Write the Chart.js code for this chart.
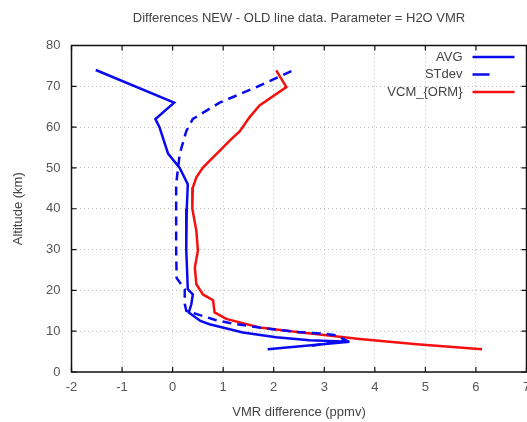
<!DOCTYPE html>
<html>
<head>
<meta charset="utf-8">
<script src="https://cdn.jsdelivr.net/npm/chart.js@4.4.1/dist/chart.umd.min.js"></script>
<style>
  html, body { margin: 0; padding: 0; background: #fff; overflow: hidden; }
  .wrap { width: 527px; height: 422px; overflow: hidden; }
</style>
</head>
<body>
<div class="wrap"><canvas id="myChart" width="560" height="422"></canvas></div>
<script>
// values (altitude in km, difference in ppmv)
var avgAlt = [74, 66, 62, 60, 53.5, 50, 46, 40, 30, 20.3, 19, 16.6, 14.6, 12.5, 11.7, 9.7, 8.5, 7.8, 7.4, 5.6];
var avgVmr = [-1.52, 0.03, -0.34, -0.26, -0.09, 0.14, 0.30, 0.28, 0.27, 0.30, 0.40, 0.37, 0.32, 0.55, 0.73, 1.39, 2.05, 2.71, 3.5, 1.88];

var stdAlt = [73.7, 69.5, 66, 62, 59, 53.4, 46, 40, 30, 23, 20.3, 16.7, 15, 12.8, 12, 10.9, 10.5, 9.8, 9.4, 9.0, 7.8, 6.3];
var stdVmr = [2.35, 1.6, 0.93, 0.40, 0.27, 0.14, 0.07, 0.07, 0.07, 0.08, 0.24, 0.24, 0.27, 0.83, 1.13, 1.72, 1.99, 2.45, 2.98, 3.24, 3.42, 2.7];

var vcmAlt = [73.9, 69.8, 65.3, 62.4, 59, 56.7, 54.2, 52.2, 50.1, 47.7, 45.2, 40, 34.6, 29.7, 25.6, 21.5, 19, 17.6, 14.6, 13, 10.9, 9.9, 9.0, 8.1, 6.8, 5.6];
var vcmVmr = [2.05, 2.25, 1.72, 1.52, 1.33, 1.13, 0.93, 0.77, 0.60, 0.47, 0.40, 0.39, 0.47, 0.50, 0.44, 0.47, 0.6, 0.8, 0.83, 1.06, 1.72, 2.38, 3.04, 3.7, 4.83, 6.12];

var seriesNames = ["AVG", "STdev", "VCM_{ORM}"];
var xTicks = [-2, -1, 0, 1, 2, 3, 4, 5, 6, 7];
var yTicks = [0, 10, 20, 30, 40, 50, 60, 70, 80];
var chartTitle = "Differences NEW - OLD line data. Parameter = H2O VMR";

const toPoints = (xs, ys) => xs.map((v, i) => ({ x: v, y: ys[i] }));

const FONT = "'Liberation Sans', Arial, sans-serif";

// frame, inward ticks, title and legend drawn like the gnuplot original
const decor = {
  id: "decor",
  beforeDatasetsDraw(chart) {
    const ctx = chart.ctx;
    const a = chart.chartArea;
    const xs = chart.scales.x;
    const ys = chart.scales.y;
    ctx.save();
    ctx.strokeStyle = "#111";
    ctx.lineWidth = 1.5;
    ctx.strokeRect(a.left, a.top, a.right - a.left, a.bottom - a.top);
    ctx.lineWidth = 1.2;
    ctx.beginPath();
    xTicks.forEach(function (t) {
      var px = xs.getPixelForValue(t);
      ctx.moveTo(px, a.bottom); ctx.lineTo(px, a.bottom - 5);
      ctx.moveTo(px, a.top); ctx.lineTo(px, a.top + 5);
    });
    yTicks.forEach(function (t) {
      var py = ys.getPixelForValue(t);
      ctx.moveTo(a.left, py); ctx.lineTo(a.left + 5, py);
      ctx.moveTo(a.right, py); ctx.lineTo(a.right - 5, py);
    });
    ctx.stroke();
    ctx.restore();
  },
  afterDatasetsDraw(chart) {
    const ctx = chart.ctx;
    const a = chart.chartArea;
    ctx.save();
    ctx.fillStyle = "#444";
    ctx.font = "13px " + FONT;
    ctx.textAlign = "center";
    ctx.textBaseline = "middle";
    ctx.fillText(chartTitle, (a.left + a.right) / 2, 18);

    ctx.textAlign = "right";
    chart.data.datasets.forEach(function (ds, i) {
      var y = a.top + 11.5 + i * 17.5;
      ctx.fillStyle = "#444";
      ctx.fillText(seriesNames[i], a.right - 64, y);
      ctx.strokeStyle = ds.borderColor;
      ctx.lineWidth = ds.borderWidth;
      ctx.beginPath();
      ctx.moveTo(a.right - 54, y);
      ctx.lineTo(ds.borderDash && ds.borderDash.length ? a.right - 37 : a.right - 12, y);
      ctx.stroke();
    });
    ctx.restore();
  },
};

var ctx = document.getElementById("myChart").getContext("2d");
let chart = new Chart(ctx, {
  type: "scatter",
  data: {
    datasets: [
      {
        label: seriesNames[0],
        data: toPoints(avgVmr, avgAlt),
        borderColor: "#0a0af0",
        borderWidth: 2.5,
        showLine: true,
        pointRadius: 0,
        tension: 0,
      },
      {
        label: seriesNames[1],
        data: toPoints(stdVmr, stdAlt),
        borderColor: "#0a0af0",
        borderWidth: 2.5,
        borderDash: [9, 6],
        showLine: true,
        pointRadius: 0,
        tension: 0,
      },
      {
        label: seriesNames[2],
        data: toPoints(vcmVmr, vcmAlt),
        borderColor: "#f51010",
        borderWidth: 2.5,
        showLine: true,
        pointRadius: 0,
        tension: 0,
      },
    ],
  },
  options: {
    responsive: false,
    animation: false,
    layout: { padding: { left: 0, right: 33.5, top: 45.5, bottom: 0 } },
    plugins: {
      legend: { display: false },
      title: { display: false },
      tooltip: { enabled: false },
    },
    scales: {
      x: {
        type: "linear",
        min: -2,
        max: 7,
        afterFit: function (s) { s.height = 50; },
        afterBuildTicks: function (s) { s.ticks = xTicks.map(function (v) { return { value: v }; }); },
        ticks: { color: "#555", padding: 8, font: { size: 13, family: FONT } },
        grid: { color: "#bdbdbd", lineWidth: 1, drawTicks: false },
        border: { display: false, dash: [1, 3] },
        title: {
          display: true,
          text: "VMR difference (ppmv)",
          color: "#444",
          font: { size: 13, family: FONT },
          padding: { top: 0, bottom: 2.2 },
        },
      },
      y: {
        type: "linear",
        min: 0,
        max: 80,
        afterFit: function (s) { s.width = 71.5; },
        afterBuildTicks: function (s) { s.ticks = yTicks.map(function (v) { return { value: v }; }); },
        ticks: { color: "#555", padding: 11, font: { size: 13, family: FONT } },
        grid: { color: "#bdbdbd", lineWidth: 1, drawTicks: false },
        border: { display: false, dash: [1, 3] },
        title: {
          display: true,
          text: "Altitude (km)",
          color: "#444",
          font: { size: 13, family: FONT },
          padding: { top: 10.2, bottom: 0 },
        },
      },
    },
  },
  plugins: [decor],
});
</script>
</body>
</html>
